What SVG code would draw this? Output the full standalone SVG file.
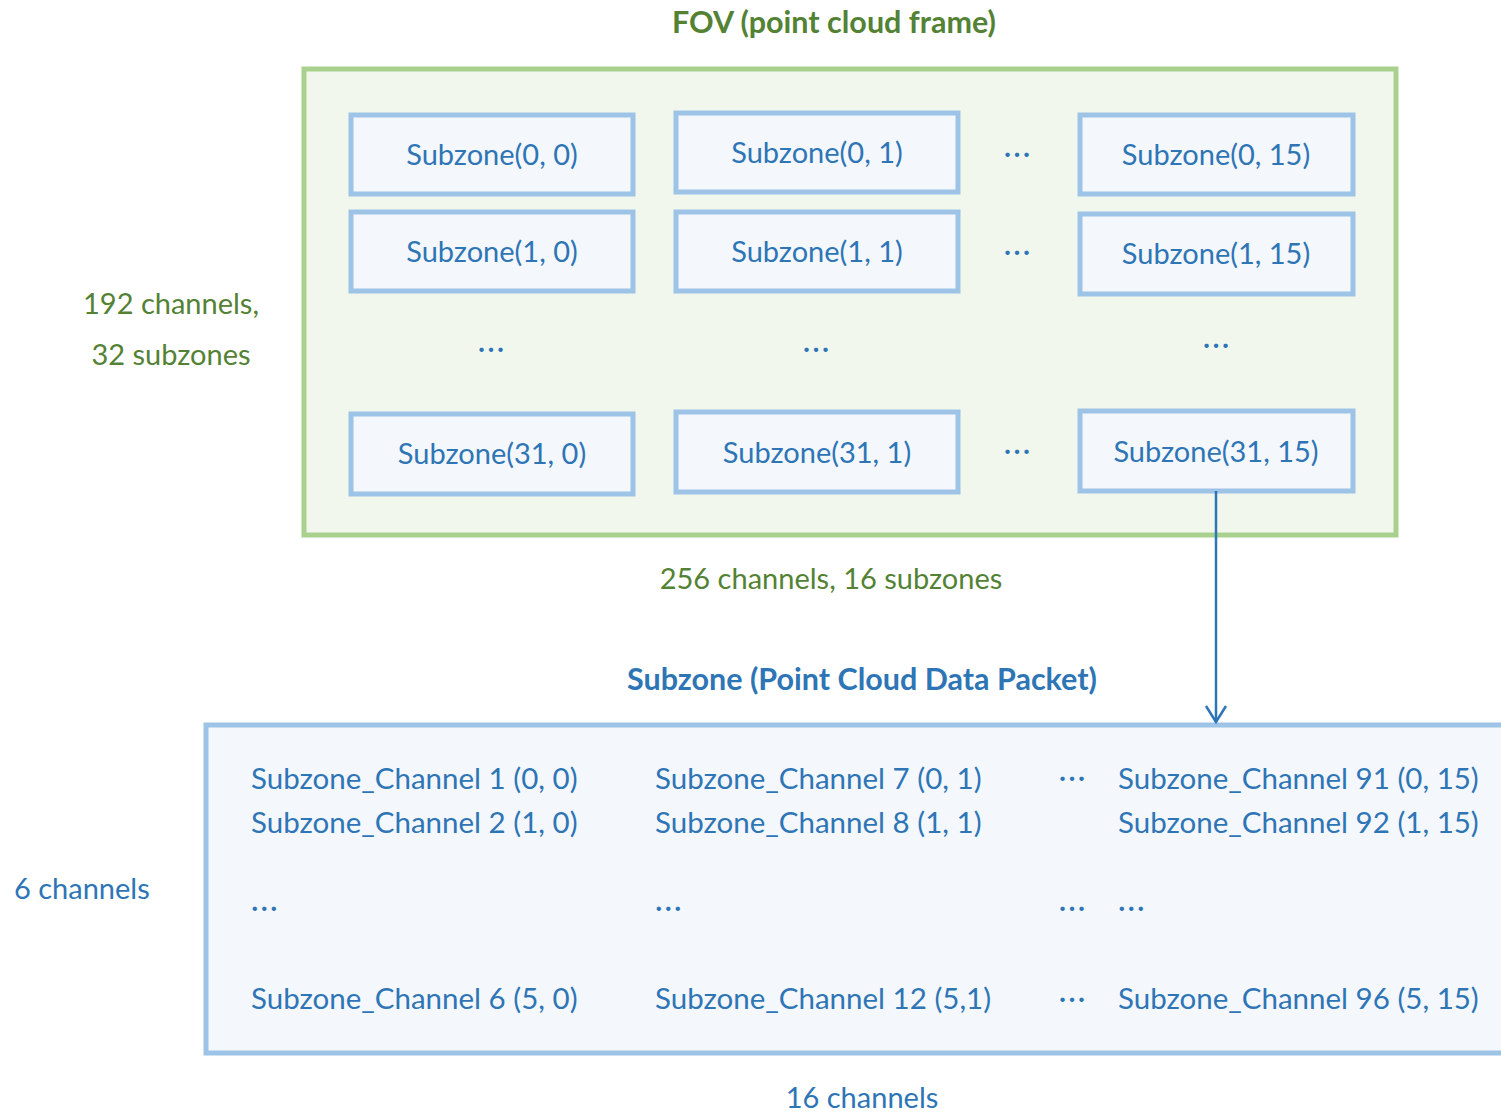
<svg xmlns="http://www.w3.org/2000/svg" width="1501" height="1113" viewBox="0 0 1501 1113">
  <defs>
    <style>
      text { font-family: Lato, "Open Sans", sans-serif; }
      .t { font-size: 29px; fill: #2e75b6; }
      .w { font-size: 29.5px; }
      .d { letter-spacing: 2px; }
      .g { font-size: 29px; fill: #548235; }
      .hg { font-size: 30.5px; font-weight: bold; fill: #548235; }
      .hb { font-size: 30.5px; font-weight: bold; fill: #2e75b6; }
      .c { text-anchor: middle; }
      .frame { fill: #f2f7ee; stroke: #a9d18e; stroke-width: 5; }
      .pkt { fill: #f4f7fc; stroke: #9dc3e6; stroke-width: 5; }
      .sz { fill: #f4f7fc; stroke: #9dc3e6; stroke-width: 5; }
      .link { fill: none; stroke: #2e75b6; stroke-width: 2.5; }
    </style>
    <marker id="open" markerWidth="24" markerHeight="24" refX="22" refY="12" markerUnits="userSpaceOnUse" orient="auto" viewBox="0 0 24 24">
      <path d="M6 2 L22 12 L6 22" fill="none" stroke="#2e75b6" stroke-width="2.5"/>
    </marker>
  </defs>

  <rect width="1501" height="1113" fill="#ffffff"/>

  <!-- point cloud frame -->
  <g id="fov">
    <text class="hg c" x="834" y="33">FOV (point cloud frame)</text>
    <rect class="frame" x="304" y="69" width="1092" height="466"/>
    <text class="g c" x="171" y="314">192 channels,</text>
    <text class="g c" x="171" y="365">32 subzones</text>
    <text class="g c" x="831" y="589">256 channels, 16 subzones</text>
  </g>

  <g id="sz-0-0"><rect class="sz" x="351" y="115" width="282" height="79"/><text class="t c" x="492" y="165">Subzone(0, 0)</text></g>
  <g id="sz-0-1"><rect class="sz" x="676" y="113" width="282" height="79"/><text class="t c" x="817" y="163">Subzone(0, 1)</text></g>
  <g id="sz-0-15"><rect class="sz" x="1080" y="115" width="273" height="79"/><text class="t c" x="1216" y="165">Subzone(0, 15)</text></g>
  <g id="sz-1-0"><rect class="sz" x="351" y="212" width="282" height="79"/><text class="t c" x="492" y="262">Subzone(1, 0)</text></g>
  <g id="sz-1-1"><rect class="sz" x="676" y="212" width="282" height="79"/><text class="t c" x="817" y="262">Subzone(1, 1)</text></g>
  <g id="sz-1-15"><rect class="sz" x="1080" y="214" width="273" height="80"/><text class="t c" x="1216" y="264">Subzone(1, 15)</text></g>
  <g id="sz-31-0"><rect class="sz" x="351" y="414" width="282" height="80"/><text class="t c" x="492" y="464">Subzone(31, 0)</text></g>
  <g id="sz-31-1"><rect class="sz" x="676" y="412" width="282" height="80"/><text class="t c" x="817" y="463">Subzone(31, 1)</text></g>
  <g id="sz-31-15"><rect class="sz" x="1080" y="411" width="273" height="80"/><text class="t c" x="1216" y="462">Subzone(31, 15)</text></g>

  <g id="fov-ellipses">
    <text class="t c d" x="1018" y="163">···</text>
    <text class="t c d" x="1018" y="261">···</text>
    <text class="t c d" x="1018" y="460">···</text>
    <text class="t c d" x="492" y="358">···</text>
    <text class="t c d" x="817" y="358">···</text>
    <text class="t c d" x="1217" y="354">···</text>
  </g>

  <!-- data packet -->
  <g id="packet">
    <text class="hb c" x="862" y="690">Subzone (Point Cloud Data Packet)</text>
    <rect class="pkt" x="206" y="725" width="1310" height="328"/>
    <text class="t" x="14" y="899">6 channels</text>
    <text class="t c" x="862" y="1108">16 channels</text>

    <text class="t w" x="251" y="789">Subzone_Channel 1 (0, 0)</text>
    <text class="t w" x="251" y="833">Subzone_Channel 2 (1, 0)</text>
    <text class="t d" x="251" y="917">···</text>
    <text class="t w" x="251" y="1009">Subzone_Channel 6 (5, 0)</text>

    <text class="t w" x="655" y="789">Subzone_Channel 7 (0, 1)</text>
    <text class="t w" x="655" y="833">Subzone_Channel 8 (1, 1)</text>
    <text class="t d" x="655" y="917">···</text>
    <text class="t w" x="655" y="1009">Subzone_Channel 12 (5,1)</text>

    <text class="t c d" x="1073" y="787">···</text>
    <text class="t c d" x="1073" y="917">···</text>
    <text class="t c d" x="1073" y="1008">···</text>

    <text class="t w" x="1118" y="789">Subzone_Channel 91 (0, 15)</text>
    <text class="t w" x="1118" y="833">Subzone_Channel 92 (1, 15)</text>
    <text class="t d" x="1118" y="917">···</text>
    <text class="t w" x="1118" y="1009">Subzone_Channel 96 (5, 15)</text>
  </g>

  <g id="connectors">
    <line class="link" x1="1216" y1="491" x2="1216" y2="722" marker-end="url(#open)"/>
  </g>
</svg>
